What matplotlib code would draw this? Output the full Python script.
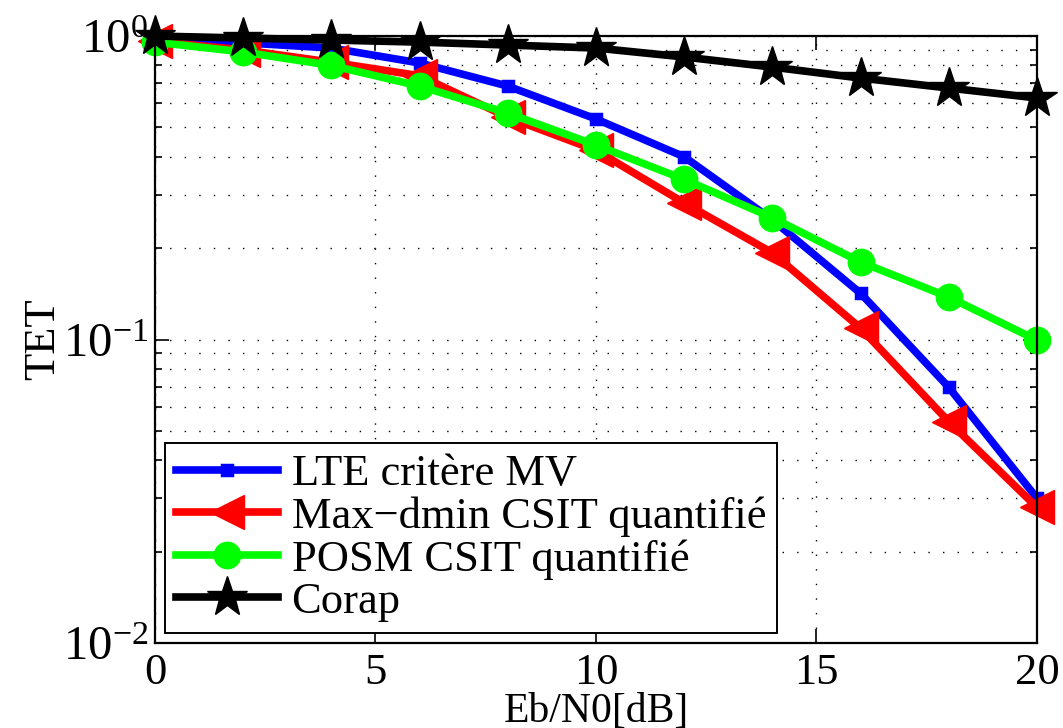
import numpy as np
import matplotlib
matplotlib.use("Agg")
import matplotlib.pyplot as plt
from matplotlib.ticker import LogLocator, LogFormatterMathtext, NullFormatter

plt.rcParams['font.family'] = ['Liberation Serif', 'DejaVu Serif']
plt.rcParams['mathtext.fontset'] = 'stix'

# data
ebn0 = [0, 2, 4, 6, 8, 10, 12, 14, 16, 18, 20]
tet_lte = [0.985, 0.95, 0.913, 0.815, 0.684, 0.533, 0.40, 0.248, 0.142, 0.0696, 0.030]
tet_maxdmin = [0.96, 0.90, 0.82, 0.74, 0.54, 0.42, 0.282, 0.193, 0.109, 0.0536, 0.028]
tet_posm = [0.955, 0.886, 0.80, 0.684, 0.557, 0.437, 0.337, 0.252, 0.180, 0.138, 0.0995]
tet_corap = [1.0, 0.985, 0.97, 0.955, 0.934, 0.913, 0.853, 0.79, 0.727, 0.674, 0.625]

labels = ['LTE critère MV', 'Max\u2212dmin CSIT quantifié', 'POSM CSIT quantifié', 'Corap']

fig = plt.figure(figsize=(10.63, 7.28), dpi=100)
ax = fig.add_axes([0.1458, 0.1168, 0.8297, 0.8337])

lw = 5.5
ax.plot(ebn0, tet_lte, color='#0000ff', lw=lw, marker='s', ms=7, mew=2.5, label=labels[0], clip_on=False)
ax.plot(ebn0, tet_maxdmin, color='#ff0000', lw=lw, marker='<', ms=24, label=labels[1], clip_on=False)
ax.plot(ebn0, tet_posm, color='#00ff00', lw=lw, marker='o', ms=19, label=labels[2], clip_on=False)
ax.plot(ebn0, tet_corap, color='black', lw=lw, marker='*', ms=30, label=labels[3], clip_on=False)

ax.set_yscale('log')
ax.set_xlim(0, 20)
ax.set_ylim(1e-2, 1)
ax.set_xticks([0, 5, 10, 15, 20])
ax.yaxis.set_major_locator(LogLocator(base=10, numticks=5))
ax.yaxis.set_major_formatter(LogFormatterMathtext())
ax.yaxis.set_minor_locator(LogLocator(base=10, subs=np.arange(2, 10), numticks=20))
ax.yaxis.set_minor_formatter(NullFormatter())

ax.grid(True, which='major', color='black', linestyle=(0, (1, 9.5)), lw=1.0)
ax.grid(True, which='minor', axis='y', color='black', linestyle=(0, (1, 9.5)), lw=1.0)

ax.tick_params(which='both', direction='in', top=True, right=True, width=1.2)
ax.tick_params(which='major', length=10, pad=8)
ax.tick_params(which='minor', length=5)
ax.tick_params(axis='x', labelsize=32, pad=7)
ax.tick_params(axis='y', labelsize=35, pad=5)
for s in ax.spines.values():
    s.set_linewidth(1.6)

ax.set_xlabel('Eb/N0[dB]', fontsize=30, labelpad=0)
ax.set_ylabel('TET', fontsize=32, labelpad=0)

leg = ax.legend(loc='lower left', bbox_to_anchor=(0.0113, 0.0165), borderaxespad=0,
                fontsize=32, numpoints=1, handlelength=2.3, handletextpad=0.3,
                labelspacing=0.05, borderpad=0.25, fancybox=False, framealpha=1,
                edgecolor='black')
leg.get_frame().set_linewidth(1.4)

fig.savefig('out.png', dpi=100)
